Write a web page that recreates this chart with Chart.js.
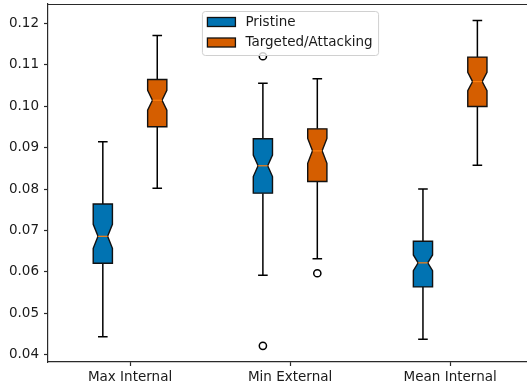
<!DOCTYPE html>
<html>
<head>
<meta charset="utf-8">
<script src="https://cdn.jsdelivr.net/npm/chart.js@4"></script>
<style>
  html, body { margin: 0; padding: 0; background: #fff; overflow: hidden; }
  #wrap { width: 527px; height: 390px; position: relative; }
</style>
</head>
<body>
<div id="wrap"><canvas id="chart"></canvas></div>
<script>
// ── Data ─────────────────────────────────────────────────────────
const categories  = ["Max Internal", "Min External", "Mean Internal"];
const seriesNames = ["Pristine", "Targeted/Attacking"];
const yTicks      = [0.04, 0.05, 0.06, 0.07, 0.08, 0.09, 0.10, 0.11, 0.12];

const pristineLow      = [0.0444, 0.0592, 0.0438];
const pristineQ1       = [0.0621, 0.0790, 0.0564];
const pristineMedian   = [0.0686, 0.0856, 0.0622];
const pristineQ3       = [0.0764, 0.0921, 0.0674];
const pristineHigh     = [0.0914, 0.1055, 0.0800];
const pristineNotch    = [0.0029, 0.0026, 0.0019];
const pristineOutliers = [[], [0.1120, 0.0422], []];

const targetedLow      = [0.0802, 0.0632, 0.0857];
const targetedQ1       = [0.0950, 0.0818, 0.0999];
const targetedMedian   = [0.1014, 0.0892, 0.1059];
const targetedQ3       = [0.1064, 0.0945, 0.1118];
const targetedHigh     = [0.1170, 0.1066, 0.1206];
const targetedNotch    = [0.0024, 0.0030, 0.0022];
const targetedOutliers = [[], [0.0597], []];

// ── Style ────────────────────────────────────────────────────────
const COLORS   = ["#0173b2", "#d55e00"];
const OFFSETS  = [-0.17, 0.17];
const HALF_W   = 0.06;   // half box width, x units
const FONT     = { family: "DejaVu Sans", size: 13.5 };
const TEXT_CLR = "#1a1a1a";
const SPINE    = "#2a2a2a";

const series = [
    { low: pristineLow, q1: pristineQ1, med: pristineMedian, q3: pristineQ3,
      high: pristineHigh, notch: pristineNotch, out: pristineOutliers },
    { low: targetedLow, q1: targetedQ1, med: targetedMedian, q3: targetedQ3,
      high: targetedHigh, notch: targetedNotch, out: targetedOutliers },
];

// outliers as scatter datasets
const datasets = series.map((s, k) => ({
    label: seriesNames[k],
    data: s.out.flatMap((vals, i) => vals.map(v => ({ x: i + OFFSETS[k], y: v }))),
    pointStyle: "circle",
    pointRadius: 3.6,
    pointBorderWidth: 1.5,
    pointBorderColor: "#000",
    pointBackgroundColor: "rgba(0,0,0,0)",
    showLine: false,
}));

// no label padding, keep the plot area where matplotlib put it
function noPad(s) {
    s.paddingTop = 0; s.paddingBottom = 0;
    s.paddingLeft = 0; s.paddingRight = 0;
}

// ── Box plot plugin ──────────────────────────────────────────────
const boxPlugin = {
    id: "boxes",
    beforeDatasetsDraw(chart) {
        const { ctx, scales: { x, y } } = chart;
        ctx.save();
        series.forEach((s, k) => {
            categories.forEach((c, i) => {
                const cx   = i + OFFSETS[k];
                const L    = x.getPixelForValue(cx - HALF_W);
                const R    = x.getPixelForValue(cx + HALF_W);
                const M    = x.getPixelForValue(cx);
                const inset = (R - L) * 0.25;
                const capL = x.getPixelForValue(cx - HALF_W / 2);
                const capR = x.getPixelForValue(cx + HALF_W / 2);
                const yLo  = y.getPixelForValue(s.low[i]);
                const yQ1  = y.getPixelForValue(s.q1[i]);
                const yMed = y.getPixelForValue(s.med[i]);
                const yQ3  = y.getPixelForValue(s.q3[i]);
                const yHi  = y.getPixelForValue(s.high[i]);
                const yCiL = y.getPixelForValue(s.med[i] - s.notch[i]);
                const yCiH = y.getPixelForValue(s.med[i] + s.notch[i]);

                // whiskers + caps
                ctx.strokeStyle = "#000";
                ctx.lineWidth = 1.5;
                ctx.beginPath();
                ctx.moveTo(M, yQ1); ctx.lineTo(M, yLo);
                ctx.moveTo(M, yQ3); ctx.lineTo(M, yHi);
                ctx.moveTo(capL, yLo); ctx.lineTo(capR, yLo);
                ctx.moveTo(capL, yHi); ctx.lineTo(capR, yHi);
                ctx.stroke();

                // notched box
                ctx.beginPath();
                ctx.moveTo(L, yQ1);
                ctx.lineTo(R, yQ1);
                ctx.lineTo(R, yCiL);
                ctx.lineTo(R - inset, yMed);
                ctx.lineTo(R, yCiH);
                ctx.lineTo(R, yQ3);
                ctx.lineTo(L, yQ3);
                ctx.lineTo(L, yCiH);
                ctx.lineTo(L + inset, yMed);
                ctx.lineTo(L, yCiL);
                ctx.closePath();
                ctx.fillStyle = COLORS[k];
                ctx.fill();
                ctx.lineWidth = 1.4;
                ctx.strokeStyle = "#111";
                ctx.stroke();

                // median
                ctx.strokeStyle = "#ff7f0e";
                ctx.lineWidth = 1.2;
                ctx.beginPath();
                ctx.moveTo(L + inset, yMed);
                ctx.lineTo(R - inset, yMed);
                ctx.stroke();
            });
        });
        ctx.restore();
    },
    afterDraw(chart) {
        const { ctx, chartArea: a } = chart;
        ctx.save();
        // top spine
        ctx.strokeStyle = SPINE;
        ctx.lineWidth = 1.2;
        ctx.beginPath();
        ctx.moveTo(a.left, a.top + 0.5);
        ctx.lineTo(a.right, a.top + 0.5);
        ctx.stroke();

        // legend, upper center
        ctx.font = `${FONT.size}px ${FONT.family}`;
        const textW = Math.max(...seriesNames.map(n => ctx.measureText(n).width));
        const pad = 5, patchW = 28, patchH = 9, gap = 10, rowH = 20.5;
        const w = pad + patchW + gap + textW + pad + 1;
        const h = rowH * seriesNames.length + 3;
        const lx = (a.left + a.right) / 2 - w / 2 + 3;
        const ly = a.top + 7.5;
        ctx.fillStyle = "rgba(255,255,255,0.8)";
        ctx.strokeStyle = "#d0d0d0";
        ctx.lineWidth = 1;
        ctx.beginPath();
        ctx.roundRect(lx, ly, w, h, 3);
        ctx.fill();
        ctx.stroke();
        seriesNames.forEach((n, k) => {
            const cy = ly + 10.5 + k * rowH;
            ctx.fillStyle = COLORS[k];
            ctx.fillRect(lx + pad, cy - patchH / 2, patchW, patchH);
            ctx.strokeStyle = "#111";
            ctx.lineWidth = 1.3;
            ctx.strokeRect(lx + pad, cy - patchH / 2, patchW, patchH);
            ctx.fillStyle = TEXT_CLR;
            ctx.textBaseline = "middle";
            ctx.fillText(n, lx + pad + patchW + gap, cy);
        });
        ctx.restore();
    }
};

new Chart(document.getElementById("chart"), {
    type: "scatter",
    data: { datasets },
    plugins: [boxPlugin],
    options: {
        responsive: true,
        maintainAspectRatio: false,
        animation: false,
        events: [],
        layout: { autoPadding: false, padding: { top: 4, right: 0, left: 0, bottom: 0 } },
        plugins: { legend: { display: false }, tooltip: { enabled: false } },
        scales: {
            x: {
                type: "linear",
                min: -0.5125,
                max: 2.48,
                afterBuildTicks: (s) => { s.ticks = categories.map((c, i) => ({ value: i })); },
                afterFit: (s) => { s.height = 28; noPad(s); },
                ticks: {
                    autoSkip: false, maxRotation: 0, padding: 3,
                    callback: (v) => categories[v],
                    font: FONT, color: TEXT_CLR,
                },
                grid: { drawOnChartArea: false, tickLength: 4, color: SPINE, tickWidth: 1.2 },
                border: { color: SPINE, width: 1.2 },
            },
            y: {
                min: 0.0383,
                max: 0.1246,
                afterBuildTicks: (s) => { s.ticks = yTicks.map(v => ({ value: v })); },
                afterFit: (s) => { s.width = 48; noPad(s); },
                ticks: {
                    padding: 5,
                    callback: (v) => v.toFixed(2),
                    font: FONT, color: TEXT_CLR,
                },
                grid: { drawOnChartArea: false, tickLength: 4, color: SPINE, tickWidth: 1.2 },
                border: { color: SPINE, width: 1.2 },
            }
        }
    }
});
</script>
</body>
</html>
